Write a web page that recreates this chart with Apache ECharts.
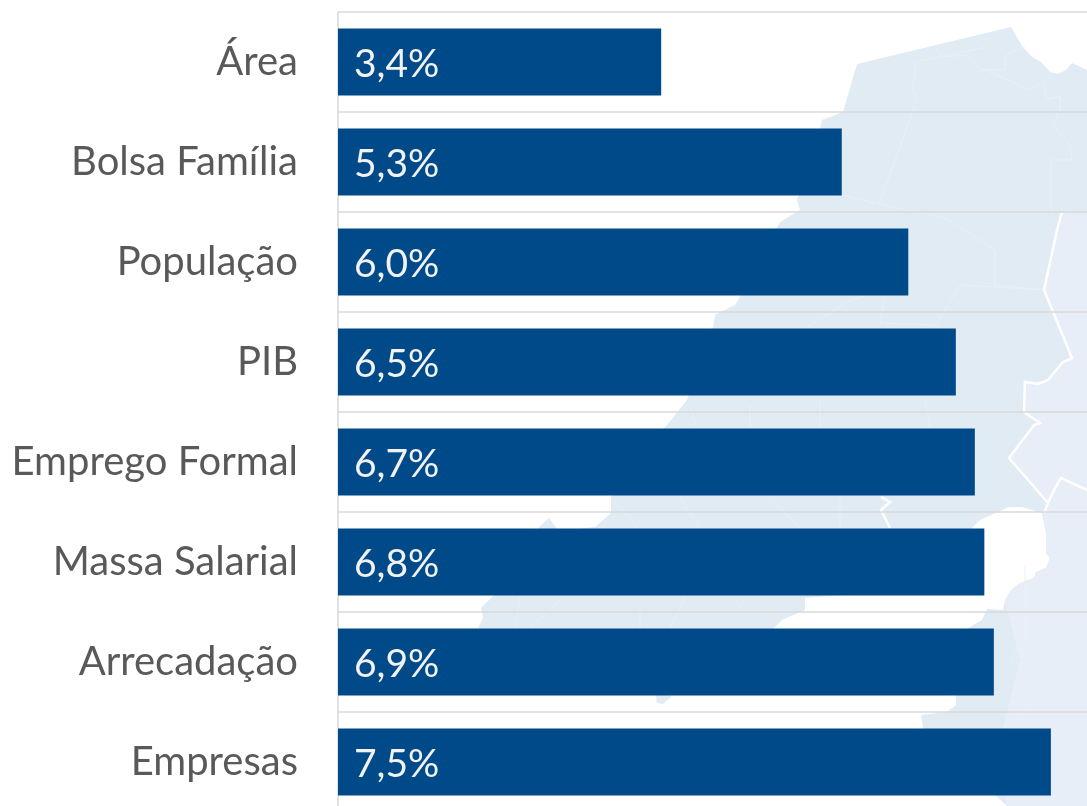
<!DOCTYPE html>
<html>
<head>
<meta charset="utf-8">
<title>Participação</title>
<script src="https://cdn.jsdelivr.net/npm/echarts@6/dist/echarts.min.js"></script>
<style>
    html, body { margin: 0; padding: 0; background: #fff; }
    #chart { width: 1087px; height: 806px; }
</style>
</head>
<body>
<div id="chart"></div>
<script>
    var categories = ['Área', 'Bolsa Família', 'População', 'PIB', 'Emprego Formal', 'Massa Salarial', 'Arrecadação', 'Empresas'];
    var shares = [3.4, 5.3, 6.0, 6.5, 6.7, 6.8, 6.9, 7.5];

    // faded map behind the bars, decoration only
    var mapOutline = [[857,64],[1011,27],[1022,46],[1032,57],[1041,62],[1050,72],[1058,74],[1066,70],[1072,63],[1087,70],
        [1087,806],[1007,806],[923,728],[921,715],[947,712],[956,705],[956,697],[968,628],[982,620],[987,609],[1003,610],
        [1005,600],[1011,590],[1020,583],[1034,578],[1036,572],[1046,568],[1050,558],[1046,553],[1046,533],[1042,513],
        [1022,507],[1009,507],[980,520],[972,528],[960,570],[900,590],[805,598],[805,610],[782,620],[774,628],[671,690],
        [671,697],[663,704],[657,703],[655,690],[478,628],[483,618],[481,608],[492,597],[530,540],[539,527],[549,518],[557,529],
        [575,529],[595,527],[611,513],[611,497],[640,450],[667,425],[687,400],[713,328],[715,315],[735,305],[740,297],
        [780,222],[800,210],[797,200],[820,128],[822,120],[843,112]];
    var eastRegion = [[1062,212],[1087,212],[1087,806],[1007,806],[1000,740],[1020,660],[1005,600],[1011,590],[1020,583],
        [1034,578],[1036,572],[1046,568],[1050,558],[1046,553],[1046,533],[1044,513],[1048,503],[1009,458],[1034,425],
        [1040,423],[1024,412],[1023,382],[1048,380],[1063,362],[1072,358],[1044,290],[1057,230]];
    var whiteBorders = [
        [[1062,212],[1057,230],[1044,290],[1072,358],[1063,362],[1048,380],[1038,384],[1025,382],[1024,412],[1040,423],[1034,425],[1009,458],[1048,503],[1044,513]],
        [[1087,490],[1061,478],[1055,488],[1048,503]],
        [[881,497],[890,502],[881,510],[890,528]]
    ];
    var faintBorders = [
        [[935,47],[943,57],[967,55],[980,70],[1005,70],[1006,55],[1025,46]],
        [[986,47],[916,62],[913,90],[917,100],[879,204]],
        [[985,70],[1030,90],[1043,81],[1047,99],[1060,96],[1060,110],[1053,125],[1070,145],[1072,160],[1051,160],[1051,212]],
        [[842,195],[879,204],[945,218],[995,250],[995,285],[1044,290],[960,285],[936,325],[880,323],[886,290],[850,300],[806,328]],
        [[1087,240],[1068,212]],
        [[690,405],[700,440]],[[750,405],[750,428]],[[820,400],[820,428]],[[925,400],[930,428]],
        [[612,500],[640,530]],[[680,497],[700,528]],[[770,497],[800,528]],[[840,497],[840,528]],
        [[520,597],[515,628]],[[560,600],[530,628]],[[640,610],[640,628]],[[685,597],[670,628]],[[745,600],[720,628]],
        [[1025,565],[1025,640],[1010,660],[1040,675],[1060,670],[1087,650]],
        [[1036,672],[1030,700],[1020,720]],
        [[1060,770],[1087,760]]
    ];

    var graphicItems = [
        { type: 'polygon', z: -10, shape: { points: mapOutline }, style: { fill: '#e1ebf4' } },
        { type: 'polygon', z: -9, shape: { points: eastRegion }, style: { fill: '#e8eef7' } }
    ];
    faintBorders.forEach(function (pts) {
        graphicItems.push({ type: 'polyline', z: -8, shape: { points: pts }, style: { fill: null, stroke: '#e9f0f7', lineWidth: 1 } });
    });
    whiteBorders.forEach(function (pts) {
        graphicItems.push({ type: 'polyline', z: -7, shape: { points: pts }, style: { fill: null, stroke: '#ffffff', lineWidth: 2.5 } });
    });

    var chart = echarts.init(document.getElementById('chart'));
    chart.setOption({
        animation: false,
        backgroundColor: '#fff',
        textStyle: { fontFamily: 'Lato' },
        graphic: graphicItems,
        grid: { left: 338, top: 12, width: 749, height: 800, outerBoundsMode: 'none' },
        xAxis: {
            type: 'value',
            min: 0,
            max: 7.88,
            show: false
        },
        yAxis: {
            type: 'category',
            inverse: true,
            data: categories,
            axisTick: { show: false },
            axisLine: { show: true, lineStyle: { color: '#d9d9d9', width: 1.5 } },
            splitLine: { show: true, interval: 0, lineStyle: { color: '#d9d9d9', width: 1.5 } },
            axisLabel: { fontSize: 40, color: '#595959', margin: 40, fontFamily: 'Lato' }
        },
        series: [{
            type: 'bar',
            data: shares,
            barWidth: 67,
            itemStyle: { color: '#004a8a' },
            label: {
                show: true,
                position: 'insideLeft',
                distance: 16,
                offset: [0, 2],
                fontSize: 39,
                color: '#f2f2f2',
                fontFamily: 'Lato',
                formatter: function (p) {
                    return p.value.toFixed(1).replace('.', ',') + '%';
                }
            }
        }]
    });
</script>
</body>
</html>
